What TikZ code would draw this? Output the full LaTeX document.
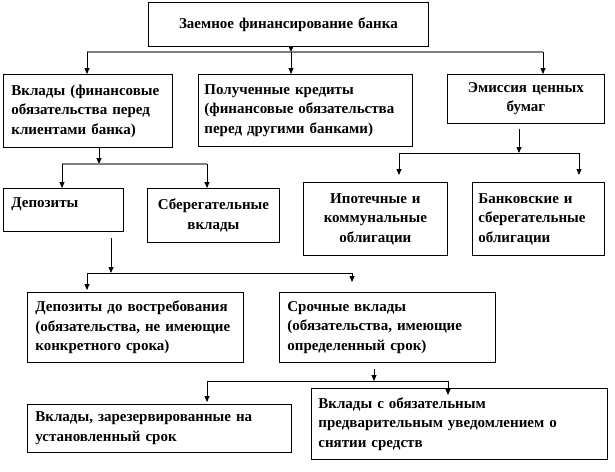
\documentclass[tikz,border=0pt]{standalone}
\usepackage{fontspec}
\setmainfont{Liberation Serif}
\newfontfamily\boxfont{Liberation Serif}
\usepackage{tikz}
\usetikzlibrary{arrows.meta}

\begin{document}
\begin{tikzpicture}[
    x=1pt, y=-1pt,
    box/.style={rectangle, draw, line width=0.8pt, anchor=north west, inner xsep=8pt, inner ysep=0pt, align=left, font=\boxfont\fontsize{15}{19.5}\selectfont\bfseries},
    cbox/.style={box, align=center},
    arrow/.style={-{Triangle[length=6pt, width=5pt]}, line width=0.8pt},
    bar/.style={draw=gray, line width=1.6pt},
    line/.style={line width=0.8pt},
  ]
    \useasboundingbox (0,0) rectangle (615,471);

    % Nodes
    \node[cbox, minimum width=280pt, minimum height=44pt, text width=264pt] (top) at (148,2) {Заемное финансирование банка};
    \node[box, minimum width=169pt, minimum height=73pt, text width=153pt] (vklady) at (3,74) {Вклады (финансовые\\обязательства перед\\клиентами банка)};
    \node[box, minimum width=214pt, minimum height=72pt, text width=202pt, inner xsep=6pt] (kredity) at (198,74) {Полученные кредиты\\(финансовые обязательства\\перед другими банками)};
    \node[cbox, minimum width=157pt, minimum height=49pt, text width=141pt] (emissia) at (447,74) {Эмиссия ценных\\бумаг};
    \node[box, minimum width=120pt, minimum height=43pt, text width=104pt, text depth=14pt] (depozity) at (3,188) {Депозиты};
    \node[cbox, minimum width=132pt, minimum height=54pt, text width=116pt] (sberegat) at (147,188) {Сберегательные\\вклады};
    \node[cbox, minimum width=144pt, minimum height=73pt, text width=128pt] (ipotech) at (303,182) {Ипотечные и\\коммунальные\\облигации};
    \node[box, minimum width=132pt, minimum height=73pt, text width=120pt, inner xsep=6pt] (bankov) at (472,182) {Банковские и\\сберегательные\\облигации};
    \node[box, minimum width=216pt, minimum height=70pt, text width=200pt] (vostreb) at (27,292) {Депозиты до востребования\\(обязательства, не имеющие\\конкретного срока)};
    \node[box, minimum width=216pt, minimum height=70pt, text width=200pt] (srochn) at (279,292) {Срочные вклады\\(обязательства, имеющие\\определенный срок)};
    \node[box, minimum width=264pt, minimum height=48pt, text width=248pt] (rezerv) at (27,404) {Вклады, зарезервированные на\\установленный срок};
    \node[box, minimum width=296pt, minimum height=71pt, text width=282pt, inner xsep=7pt] (uvedoml) at (311,388) {Вклады с обязательным\\предварительным уведомлением о\\снятии средств};

    % Branch points
    \coordinate (j1) at (291,52);
    \coordinate (b1l) at (87,52);
    \coordinate (b1r) at (543,52);
    \coordinate (j2) at (99,164);
    \coordinate (b2l) at (62,164);
    \coordinate (b2r) at (207,164);
    \coordinate (j3) at (519,153);
    \coordinate (b3l) at (399,153);
    \coordinate (b3r) at (579,153);
    \coordinate (j4) at (111,273);
    \coordinate (b4l) at (87,273);
    \coordinate (b4r) at (352,273);
    \coordinate (j5) at (374,381);
    \coordinate (b5l) at (207,381);
    \coordinate (b5r) at (448,381);

    % Arrows
    \draw[arrow] (j1 |- top.south) -- (j1);
    \draw[bar] (b1l) -- (b1r);
    \draw[arrow] (b1l) -- (b1l |- vklady.north);
    \draw[arrow] (j1) -- (j1 |- kredity.north);
    \draw[arrow] (b1r) -- (b1r |- emissia.north);

    \draw[arrow] (j2 |- vklady.south) -- (j2);
    \draw[bar, line width=1.2pt] (b2l) -- (b2r);
    \draw[arrow] (b2l) -- (b2l |- depozity.north);
    \draw[arrow] (b2r) -- (b2r |- sberegat.north);

    \draw[arrow, shorten <=5pt] (j3 |- emissia.south) -- (j3);
    \draw[line] (b3l) -- (b3r);
    \draw[arrow, shorten >=7pt] (b3l) -- (b3l |- ipotech.north);
    \draw[arrow, shorten >=7pt] (b3r) -- (b3r |- bankov.north);

    \draw[arrow, shorten <=6pt] (j4 |- depozity.south) -- (j4);
    \draw[line] (b4l) -- (b4r);
    \draw[arrow, shorten >=2pt] (b4l) -- (b4l |- vostreb.north);
    \draw[arrow, shorten >=10pt] (b4r) -- (b4r |- srochn.north);

    \draw[arrow, shorten <=6pt] (j5 |- srochn.south) -- (j5);
    \draw[line] (b5l) -- (b5r);
    \draw[arrow, shorten >=2pt] (b5l) -- (b5l |- rezerv.north);
    \draw[arrow, shorten >=-7pt] (b5r) -- (b5r |- uvedoml.north);

  \end{tikzpicture}
\end{document}
